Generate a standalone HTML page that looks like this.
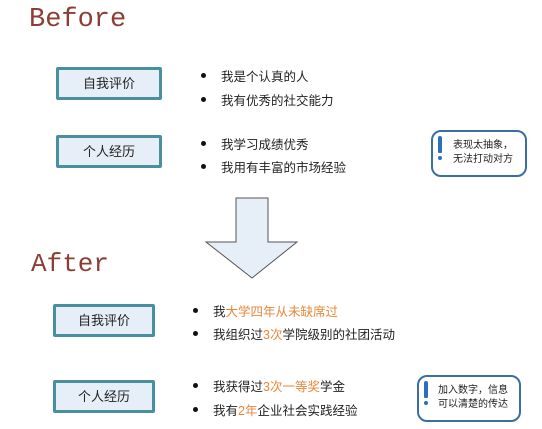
<!DOCTYPE html>
<html><head><meta charset="utf-8"><style>
body{margin:0;width:542px;height:429px;background:#fff;position:relative;overflow:hidden;font-family:"Liberation Sans","Noto Sans CJK SC",sans-serif;}
.a{position:absolute}
.box{position:absolute;width:100px;height:27px;border:3px solid #4a8fa0;background:#e6eef8;border-radius:2px;font-size:13px;color:#222;text-align:center;line-height:27px}
.li{position:absolute;font-size:12.5px;color:#222;white-space:nowrap}
.li:before{content:"";position:absolute;left:-20px;top:7px;width:5px;height:5px;border-radius:50%;background:#111}
.o{color:#e8873a}
.call{position:absolute;border:2px solid #3a6ea5;border-radius:10px;background:#fff;font-size:10px;line-height:14px;color:#222}
.ex{position:absolute;left:5px;top:4px;width:4px;height:17px;background:#2a6fc0;border-radius:2px 2px 1px 1px}
.ex:after{content:"";position:absolute;left:0;top:20px;width:4px;height:4px;border-radius:50%;background:#2a6fc0}
</style></head><body>
<div class="a" style="left:29px;top:5px;font-family:'Liberation Mono',monospace;font-size:27px;color:#8e3d35">Before</div>
<div class="box" style="left:56px;top:67px">自我评价</div>
<div class="box" style="left:56px;top:135px">个人经历</div>
<div class="li" style="left:221px;top:66px">我是个认真的人</div>
<div class="li" style="left:221px;top:90px">我有优秀的社交能力</div>
<div class="li" style="left:221px;top:134px">我学习成绩优秀</div>
<div class="li" style="left:221px;top:157px">我用有丰富的市场经验</div>
<div class="call" style="left:431px;top:130px;width:92px;height:43px"><span class="ex"></span><div style="position:absolute;left:20px;top:7px">表现太抽象，<br>无法打动对方</div></div>
<svg class="a" style="left:0;top:0" width="542" height="429"><polygon points="236,198 268,198 268,242 297,242 252,278 206,242 236,242" fill="#e6eef8" stroke="#555" stroke-width="1"/></svg>
<div class="a" style="left:31px;top:249px;font-family:'Liberation Mono',monospace;font-size:26px;color:#8e3d35">After</div>
<div class="box" style="left:53px;top:304px;width:96px">自我评价</div>
<div class="box" style="left:53px;top:380px;width:96px">个人经历</div>
<div class="li" style="left:213px;top:301px">我<span class="o">大学四年从未缺席过</span></div>
<div class="li" style="left:213px;top:324px">我组织过<span class="o">3次</span>学院级别的社团活动</div>
<div class="li" style="left:213px;top:376px">我获得过<span class="o">3次一等奖</span>学金</div>
<div class="li" style="left:213px;top:400px">我有<span class="o">2年</span>企业社会实践经验</div>
<div class="call" style="left:417px;top:375px;width:100px;height:43px"><span class="ex"></span><div style="position:absolute;left:19px;top:7px">加入数字，信息<br>可以清楚的传达</div></div>
</body></html>
